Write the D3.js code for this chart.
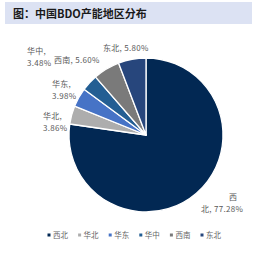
<!DOCTYPE html>
<html><head><meta charset="utf-8">
<script src="https://cdn.jsdelivr.net/npm/d3@7/dist/d3.min.js"></script>
<style>
html,body{margin:0;padding:0;background:#fff;}
svg{display:block;font-family:"Noto Sans CJK SC","Noto Sans",sans-serif;}
</style></head>
<body>
<svg id="chart" width="260" height="253"></svg>
<script>
const title = "图：中国BDO产能地区分布";
const categories = ["西北", "华北", "华东", "华中", "西南", "东北"];
const values = [77.28, 3.86, 3.98, 3.48, 5.60, 5.80];
const colors = ["#022853", "#ADADAD", "#4673C6", "#235E93", "#7A7A7A", "#27467C"];
// label text lines per category
const labelLines = [
  ["西", "北, 77.28%"],
  ["华北,", "3.86%"],
  ["华东,", "3.98%"],
  ["华中,", "3.48%"],
  ["西南, 5.60%"],
  ["东北, 5.80%"]
];
// label layout: per-line x offsets, baseline, alignment
const labelLayout = [
  {x: [229, 201], y: 200, anchor: "start"},
  {x: [43, 43], y: 119, anchor: "start"},
  {x: [52, 52], y: 87, anchor: "start"},
  {x: [27, 27], y: 54, anchor: "start"},
  {x: [54], y: 63, anchor: "start"},
  {x: [103], y: 51, anchor: "start"}
];

const svg = d3.select("#chart");
// title bar
svg.append("rect").attr("x", 5).attr("y", 2).attr("width", 247).attr("height", 22).attr("fill", "#DCE2F3");
svg.append("text").attr("x", 13).attr("y", 18).attr("font-size", 11).attr("font-weight", "bold")
  .attr("fill", "#1a1a1a").text(title);

const cx = 146, cy = 135, R = 77;
const pie = d3.pie().sort(null).value(d => d)(values);
const arc = d3.arc().innerRadius(0).outerRadius(R);
const g = svg.append("g").attr("transform", `translate(${cx},${cy})`);
g.selectAll("path").data(pie).join("path")
  .attr("d", arc)
  .attr("fill", (d, i) => colors[i])
  .attr("stroke", "#fff").attr("stroke-width", 1.3).attr("stroke-linejoin", "round");

// labels
labelLines.forEach((lines, i) => {
  const L = labelLayout[i];
  const t = svg.append("text").attr("font-size", 8).attr("fill", "#595959")
    .attr("text-anchor", L.anchor).attr("letter-spacing", 0.3);
  lines.forEach((ln, j) => {
    t.append("tspan").attr("x", L.x[j]).attr("y", L.y + j * 12).text(ln);
  });
});

// legend
const legendX = d3.scalePoint().domain(categories).range([49, 202]);
const lg = svg.append("g");
categories.forEach((c, i) => {
  const x = legendX(c);
  lg.append("rect").attr("x", x - 1.5).attr("y", 233.5).attr("width", 3).attr("height", 3).attr("fill", colors[i]);
  lg.append("text").attr("x", x + 4).attr("y", 238).attr("font-size", 7.5).attr("fill", "#666").text(c);
});
</script>
</body></html>
